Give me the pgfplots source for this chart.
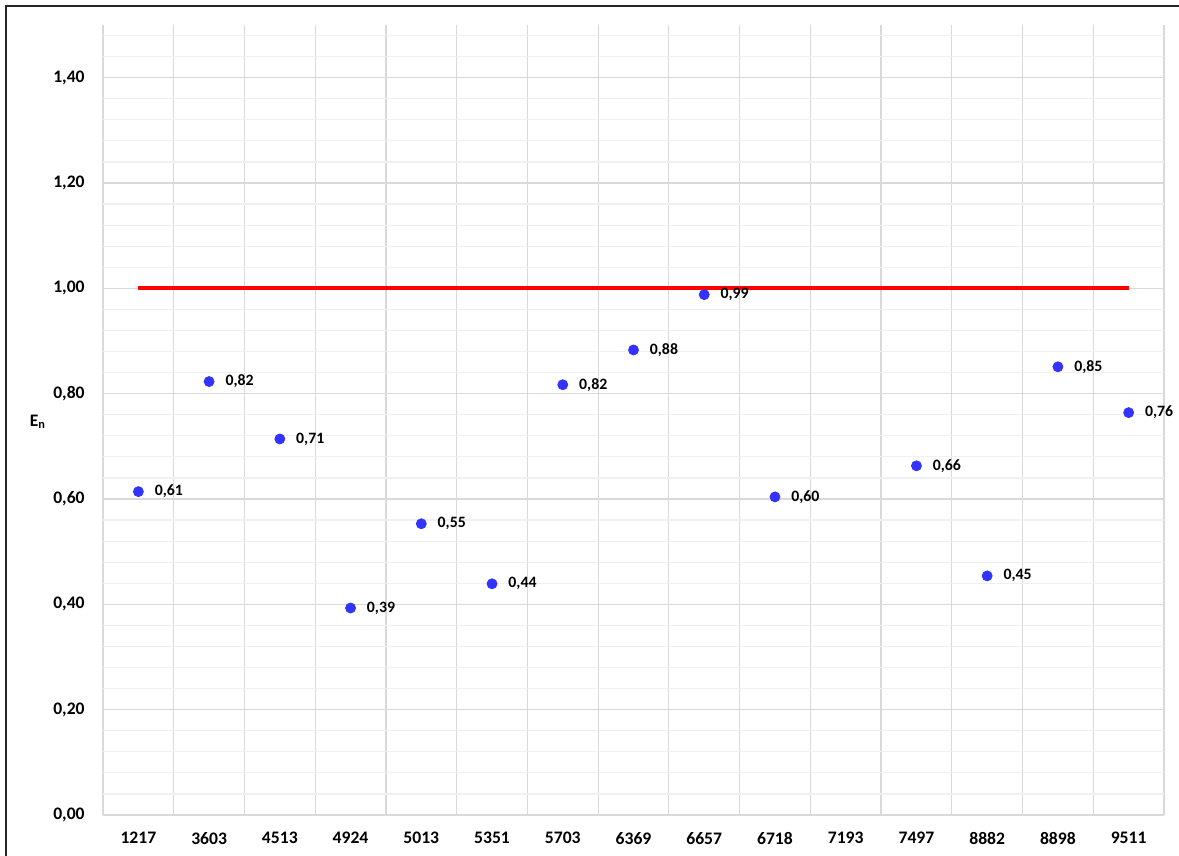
\documentclass[border=0pt]{standalone}
\usepackage{pgfplots}
\pgfplotsset{compat=1.18}
\usepackage{fontspec}
\setmainfont{Carlito}
\definecolor{gridmaj}{RGB}{217,217,217}
\definecolor{gridmin}{RGB}{240,240,240}
\definecolor{ptblue}{RGB}{51,51,255}
\begin{document}
\begin{tikzpicture}[x=1pt,y=1pt]
\path[use as bounding box] (0,0) rectangle (589.5,428);
\begin{axis}[
  at={(51.5pt,20.5pt)}, anchor=south west,
  scale only axis, width=530.5pt, height=395pt,
  xmin=-0.5, xmax=14.5, ymin=0, ymax=1.5,
  xtick={0,1,2,3,4,5,6,7,8,9,10,11,12,13,14},
  xticklabels={1217,3603,4513,4924,5013,5351,5703,6369,6657,6718,7193,7497,8882,8898,9511},
  minor xtick={-0.5,0.5,1.5,2.5,3.5,4.5,5.5,6.5,7.5,8.5,9.5,10.5,11.5,12.5,13.5,14.5},
  ytick={0,0.2,0.4,0.6,0.8,1.0,1.2,1.4},
  minor ytick={0.04,0.08,0.12,0.16,0.24,0.28,0.32,0.36,0.44,0.48,0.52,0.56,0.64,0.68,0.72,0.76,0.84,0.88,0.92,0.96,1.04,1.08,1.12,1.16,1.24,1.28,1.32,1.36,1.44,1.48},
  major tick length=0pt, minor tick length=0pt,
  xmajorgrids=false, xminorgrids=true, ymajorgrids=true, yminorgrids=true,
  minor x grid style={draw=gridmaj, line width=0.6pt},
  major y grid style={draw=gridmaj, line width=0.6pt},
  minor y grid style={draw=gridmin, line width=0.6pt},
  axis line style={draw=none},
  /pgf/number format/.cd, fixed, fixed zerofill, precision=2, use comma, assume math mode=true,
  /pgfplots/.cd,
  tick label style={font=\fontsize{8.8}{10}\selectfont\bfseries, inner sep=0pt},
  yticklabel style={anchor=east, xshift=-9pt},
  xticklabel style={anchor=north, yshift=-8.5pt},
  clip=false,
]
\addplot[ptblue, only marks, mark=*, mark size=2.5pt, mark options={draw=ptblue, fill=ptblue},
  nodes near coords, point meta=y,
  every node near coord/.append style={anchor=west, xshift=8pt, inner sep=0pt, text=black, font=\fontsize{7.9}{9}\selectfont\bfseries}]
  table[x=x, y=y] {
x y
0 0.614
1 0.823
2 0.714
3 0.393
4 0.553
5 0.439
6 0.817
7 0.883
8 0.988
9 0.604
11 0.663
12 0.454
13 0.851
14 0.764
};
\addplot[red, line width=2pt] coordinates {(0,1) (14,1)};
\node[font=\fontsize{8.8}{10}\selectfont\bfseries, anchor=center] at (axis description cs:0,0.498) [xshift=-32.5pt] {E\textsubscript{n}};
\end{axis}
\draw[line width=1pt, black!85] (3,0) -- (3,425) -- (600,425);
\end{tikzpicture}
\end{document}
